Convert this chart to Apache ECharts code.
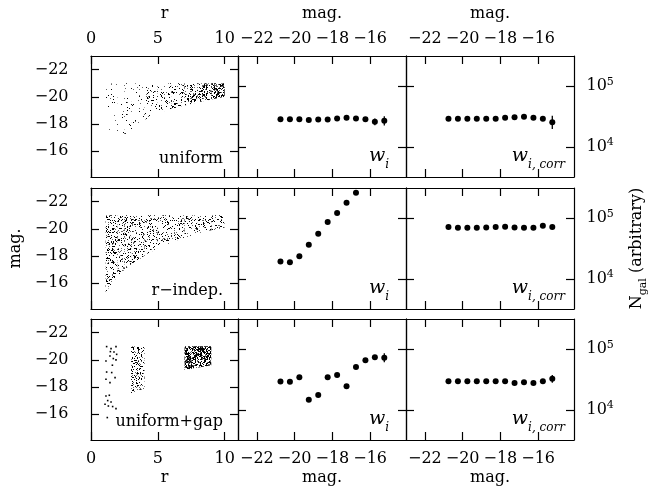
<!DOCTYPE html>
<html>
<head>
<meta charset="utf-8">
<title>Weighted galaxy counts</title>
<script src="https://cdn.jsdelivr.net/npm/echarts@6/dist/echarts.min.js"></script>
<style>
  html, body { margin: 0; padding: 0; background: #fff; }
  #chart { width: 652px; height: 493px; }
</style>
</head>
<body>
<div id="chart"></div>
<script>
// ---------- tick values ----------
const rTicks = [0, 5, 10];
const magTicks = [-22, -20, -18, -16];
const logNTicks = [4, 5];

// ---------- magnitude bins of the weighted counts ----------
const magBins = [-20.75, -20.25, -19.75, -19.25, -18.75, -18.25, -17.75, -17.25, -16.75, -16.25, -15.75, -15.25];
const magBinsRIndep = [-20.75, -20.25, -19.75, -19.25, -18.75, -18.25, -17.75, -17.25, -16.75];

// ---------- uniform sample ----------
const uniformW = [28600, 28600, 28600, 27800, 28100, 28100, 29200, 30100, 29200, 28600, 25800, 26800];
const uniformWErr = [0, 0, 0, 0, 0, 0, 0, 0, 0, 0, 0.055, 0.075];           // dex
const uniformWCorr = [28900, 28900, 28900, 28900, 28900, 28900, 30100, 30600, 31200, 30100, 28900, 25300];
const uniformWCorrErr = [0, 0, 0, 0, 0, 0, 0, 0, 0, 0, 0.035, 0.11];

// ---------- r-independent sample ----------
const rIndepW = [19300, 18800, 23600, 36400, 55300, 86500, 122000, 181000, 265000];
const rIndepWErr = [0, 0, 0, 0, 0, 0, 0, 0, 0];
const rIndepWCorr = [71400, 69500, 69500, 69500, 70600, 71400, 72300, 70600, 69500, 69500, 75200, 71400];
const rIndepWCorrErr = [0, 0, 0, 0, 0, 0, 0, 0, 0, 0, 0, 0];

// ---------- uniform sample with a gap ----------
const gapW = [29400, 28900, 34600, 14600, 17600, 34600, 37700, 24500, 50700, 65500, 73500, 72300];
const gapWErr = [0, 0, 0, 0, 0, 0, 0, 0, 0, 0, 0, 0.075];
const gapWCorr = [29700, 29700, 29700, 29700, 29700, 29700, 29700, 27800, 28600, 27800, 29700, 32400];
const gapWCorrErr = [0, 0, 0, 0, 0, 0, 0, 0, 0, 0, 0, 0.065];

// ---------- (r, mag) sample envelopes ----------
const brightCut = -21;
const envR = [1.1, 1.5, 2, 2.5, 3, 4, 5, 6, 7, 8, 9, 10];
const uniformFaint = [-17.5, -17.4, -17.3, -17.2, -17.6, -18.3, -18.8, -19.1, -19.35, -19.6, -19.8, -20.0];
const rIndepFaint = [-15.3, -15.9, -16.5, -17.0, -17.4, -18.0, -18.6, -19.0, -19.35, -19.65, -19.9, -20.1];
const gapMidR = [3.0, 4.0];
const gapMidFaint = [-17.5, -17.9];
const gapOuterR = [7.0, 9.0];
const gapOuterFaint = [-19.25, -19.6];
// the handful of galaxies inside r = 2 in the gap sample
const gapInnerR = [1.17, 1.50, 1.87, 1.72, 1.92, 1.67, 1.42, 1.12, 1.87, 1.17, 1.55, 1.12, 1.80, 1.42, 1.12, 1.37, 1.05, 1.30, 1.62, 1.87, 1.22, 1.45, 1.60, 1.25, 1.50];
const gapInnerMag = [-20.97, -20.82, -20.97, -20.57, -20.40, -20.09, -20.28, -19.91, -19.99, -19.10, -19.06, -18.57, -18.69, -18.32, -17.34, -17.39, -16.73, -16.60, -16.56, -16.41, -15.75, -20.60, -19.60, -17.00, -16.90];

// ---------- styling ----------
const FONT = "'DejaVu Serif', 'Liberation Serif', serif";
const INK = '#000';
// stipple density (dots per px^2) for each r-segment of the envelopes
const uniformStipple = [0.02, 0.025, 0.03, 0.04, 0.06, 0.09, 0.14, 0.2, 0.3, 0.42, 0.55];
const rIndepStipple = [0.24, 0.24, 0.23, 0.22, 0.2, 0.18, 0.17, 0.17, 0.18, 0.2, 0.26];
const gapMidStipple = [0.28];
const gapOuterStipple = [0.9];

// panel layout
const colLeft = [91, 238, 406];
const colWidth = [147, 168, 168];
const rowTop = [56, 188, 319];
const rowHeight = 121;
const rRange = [0, 11];
const magRange = [-23, -14.1];
const logNRange = [3.5, 5.5];

// ---------- stipple textures ----------
const stippleCache = {};
function stipple(density) {
  const key = density.toFixed(3);
  if (stippleCache[key]) return stippleCache[key];
  const size = 64;
  const cv = document.createElement('canvas');
  cv.width = cv.height = size;
  const ctx = cv.getContext('2d');
  ctx.fillStyle = INK;
  // integer hash -> [0, 1) used to scatter the stipple dots over the tile
  let a = 0x1b873593 ^ Math.round(density * 1000);
  const hash = () => {
    a = (a + 0x6D2B79F5) | 0;
    let t = Math.imul(a ^ (a >>> 15), 1 | a);
    t = (t + Math.imul(t ^ (t >>> 7), 61 | t)) ^ t;
    return ((t ^ (t >>> 14)) >>> 0) / 4294967296;
  };
  const n = Math.round(density * size * size);
  for (let i = 0; i < n; i++) {
    const x = Math.floor(hash() * size), y = Math.floor(hash() * size);
    ctx.globalAlpha = hash() < 0.3 ? 0.6 : 1;
    ctx.fillRect(x, y, 1, 1);
  }
  stippleCache[key] = cv;
  return cv;
}

// ---------- axes ----------
const minus = v => String(v).replace('-', '\u2212');
const grids = [], xAxes = [], yAxes = [];

function baseAxis(gridIndex, position, range, ticks, extra) {
  return Object.assign({
    type: 'value', gridIndex, position, min: range[0], max: range[1],
    axisLine: { show: true, onZero: false, lineStyle: { color: INK, width: 1.2 } },
    axisTick: { show: true, inside: true, length: 8, customValues: ticks, lineStyle: { color: INK, width: 1.2 } },
    axisLabel: { show: false, customValues: ticks },
    splitLine: { show: false }
  }, extra);
}
const labelStyle = (ticks, fmt, margin, rich) => ({
  show: true, customValues: ticks, formatter: fmt, fontFamily: FONT, fontSize: 16, color: INK, margin, rich
});
const nameStyle = { fontFamily: FONT, fontSize: 16, color: INK };
const powerRich = {
  b: { fontFamily: FONT, fontSize: 16, lineHeight: 20, color: INK },
  e: { fontFamily: FONT, fontSize: 11, lineHeight: 6, verticalAlign: 'top', color: INK }
};
const nGalRich = {
  n: { fontFamily: FONT, fontSize: 16, lineHeight: 24, color: INK },
  s: { fontFamily: FONT, fontSize: 11, lineHeight: 10, verticalAlign: 'bottom', color: INK }
};

for (let row = 0; row < 3; row++) {
  for (let col = 0; col < 3; col++) {
    const gi = grids.length;
    grids.push({ left: colLeft[col], top: rowTop[row], width: colWidth[col], height: rowHeight, show: false, containLabel: false, outerBoundsMode: 'none' });
    const isCloud = col === 0;
    const xRange = isCloud ? rRange : magRange;
    const xTicks = isCloud ? rTicks : magTicks;
    const xFmt = isCloud ? (v => String(v)) : minus;
    const xName = isCloud ? 'r' : 'mag.';
    // bottom / top
    xAxes.push(baseAxis(gi, 'bottom', xRange, xTicks, row === 2 ? {
      axisLabel: labelStyle(xTicks, xFmt, 11),
      name: xName, nameLocation: 'middle', nameGap: 30, nameTextStyle: nameStyle
    } : {}));
    xAxes.push(baseAxis(gi, 'top', xRange, xTicks, row === 0 ? {
      axisLabel: labelStyle(xTicks, xFmt, 9.5),
      name: xName, nameLocation: 'middle', nameGap: 34, nameTextStyle: nameStyle
    } : {}));
    const yRange = isCloud ? magRange : logNRange;
    const yTicks = isCloud ? magTicks : logNTicks;
    // left / right
    yAxes.push(baseAxis(gi, 'left', yRange, yTicks, Object.assign({ inverse: isCloud },
      col === 0 ? { axisLabel: labelStyle(yTicks, minus, 22.5) } : {},
      (col === 0 && row === 1) ? { name: 'mag.', nameLocation: 'middle', nameGap: 67, nameTextStyle: nameStyle } : {})));
    yAxes.push(baseAxis(gi, 'right', yRange, yTicks, Object.assign({ inverse: isCloud },
      col === 2 ? { axisLabel: labelStyle(yTicks, v => '{b|10}{e|' + v + '}', 12.5, powerRich) } : {},
      (col === 2 && row === 1) ? { name: '{n|N}{s|gal}{n| (arbitrary)}', nameLocation: 'middle', nameGap: 51,
        nameTextStyle: Object.assign({ rich: nGalRich }, nameStyle) } : {})));
  }
}
const axisOf = (row, col) => 2 * (row * 3 + col);

// ---------- series builders ----------
function cloudSeries(row, rs, faint, density) {
  const textures = density.map(stipple);
  const ax = axisOf(row, 0);
  return {
    type: 'custom', xAxisIndex: ax, yAxisIndex: ax, clip: true, silent: true,
    data: rs.slice(0, -1).map((r, i) => [r, rs[i + 1], faint[i], faint[i + 1], i]),
    renderItem: (params, api) => {
      const r0 = api.value(0), r1 = api.value(1), f0 = api.value(2), f1 = api.value(3), k = api.value(4);
      return {
        type: 'polygon',
        shape: { points: [api.coord([r0, brightCut]), api.coord([r1, brightCut]), api.coord([r1, f1]), api.coord([r0, f0])] },
        style: { fill: { image: textures[k], repeat: 'repeat' } }
      };
    }
  };
}
function pointSeries(row, col, mags, counts) {
  const ax = axisOf(row, col);
  return {
    type: 'scatter', xAxisIndex: ax, yAxisIndex: ax, symbol: 'circle', symbolSize: 6,
    itemStyle: { color: INK, opacity: 1 }, silent: true,
    data: mags.map((m, i) => [m, Math.log10(counts[i])])
  };
}
function errorSeries(row, col, mags, counts, errs) {
  const ax = axisOf(row, col);
  return {
    type: 'custom', xAxisIndex: ax, yAxisIndex: ax, silent: true,
    data: mags.map((m, i) => [m, Math.log10(counts[i]), errs[i]]).filter(d => d[2] > 0),
    renderItem: (params, api) => {
      const m = api.value(0), y = api.value(1), e = api.value(2);
      const a = api.coord([m, y - e]), b = api.coord([m, y + e]);
      return { type: 'line', shape: { x1: a[0], y1: a[1], x2: b[0], y2: b[1] }, style: { stroke: INK, lineWidth: 1.3 } };
    }
  };
}

const series = [
  cloudSeries(0, envR, uniformFaint, uniformStipple),
  cloudSeries(1, envR, rIndepFaint, rIndepStipple),
  cloudSeries(2, gapMidR, gapMidFaint, gapMidStipple),
  cloudSeries(2, gapOuterR, gapOuterFaint, gapOuterStipple),
  {
    type: 'scatter', xAxisIndex: axisOf(2, 0), yAxisIndex: axisOf(2, 0), symbol: 'rect', symbolSize: 1.6,
    itemStyle: { color: INK, opacity: 1 }, silent: true,
    data: gapInnerR.map((r, i) => [r, gapInnerMag[i]])
  },
  errorSeries(0, 1, magBins, uniformW, uniformWErr), pointSeries(0, 1, magBins, uniformW),
  errorSeries(0, 2, magBins, uniformWCorr, uniformWCorrErr), pointSeries(0, 2, magBins, uniformWCorr),
  errorSeries(1, 1, magBinsRIndep, rIndepW, rIndepWErr), pointSeries(1, 1, magBinsRIndep, rIndepW),
  errorSeries(1, 2, magBins, rIndepWCorr, rIndepWCorrErr), pointSeries(1, 2, magBins, rIndepWCorr),
  errorSeries(2, 1, magBins, gapW, gapWErr), pointSeries(2, 1, magBins, gapW),
  errorSeries(2, 2, magBins, gapWCorr, gapWCorrErr), pointSeries(2, 2, magBins, gapWCorr)
];

// ---------- panel captions ----------
const cloudCaptions = ['uniform', 'r\u2212indep.', 'uniform+gap'];
const wRich = {
  w: { fontFamily: FONT, fontStyle: 'italic', fontSize: 19, lineHeight: 30, fill: INK },
  s: { fontFamily: FONT, fontStyle: 'italic', fontSize: 12, lineHeight: 12, verticalAlign: 'bottom', fill: INK }
};
const graphic = [];
rowTop.forEach((top, row) => {
  const bottom = top + rowHeight;
  graphic.push({
    type: 'text', x: colLeft[0] + colWidth[0] - 15, y: bottom - 10, silent: true,
    style: { text: cloudCaptions[row], font: '16px ' + FONT, fill: INK, align: 'right', verticalAlign: 'bottom', textAlign: 'right', textVerticalAlign: 'bottom' }
  });
  graphic.push({
    type: 'text', x: colLeft[1] + colWidth[1] - 17, y: bottom - 6, silent: true,
    style: { text: '{w|w}{s|i}', rich: wRich, align: 'right', verticalAlign: 'bottom', textAlign: 'right', textVerticalAlign: 'bottom' }
  });
  graphic.push({
    type: 'text', x: colLeft[2] + colWidth[2] - 9, y: bottom - 6, silent: true,
    style: { text: '{w|w}{s|i, corr}', rich: wRich, align: 'right', verticalAlign: 'bottom', textAlign: 'right', textVerticalAlign: 'bottom' }
  });
});

const chart = echarts.init(document.getElementById('chart'), null, { renderer: 'canvas' });
chart.setOption({
  backgroundColor: '#fff',
  animation: false,
  textStyle: { fontFamily: FONT },
  grid: grids,
  xAxis: xAxes,
  yAxis: yAxes,
  series,
  graphic
});
</script>
</body>
</html>
